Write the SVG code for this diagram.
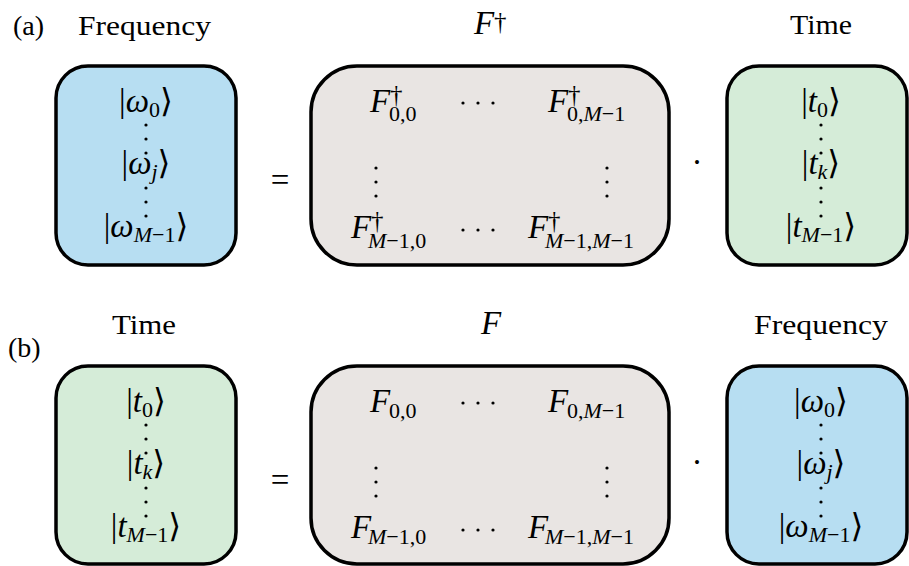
<svg xmlns="http://www.w3.org/2000/svg" width="909" height="566" viewBox="0 0 909 566">
<style>
.box{stroke:#000;stroke-width:3.5}
.blue{fill:#b7def2}
.green{fill:#d5ecd8}
.gray{fill:#e9e5e3}
.lbl{font-family:"Liberation Serif",serif;font-size:28px;fill:#000}
.m{font-family:"Liberation Serif","DejaVu Serif",serif;font-size:33px;fill:#000}
.i{font-style:italic}
.sub{font-size:22px}
.sup{font-size:25px}
.d{fill:#000}
</style>
<defs>
<g id="vd3"><circle cx="0" cy="0" r="1.6"/><circle cx="0" cy="14" r="1.6"/><circle cx="0" cy="28" r="1.6"/></g>
<g id="hd3"><circle cx="0" cy="0" r="1.6"/><circle cx="15" cy="0" r="1.6"/><circle cx="30" cy="0" r="1.6"/></g>
</defs>

<!-- Panel labels -->
<g id="labels">
<text class="lbl" x="13" y="35">(a)</text>
<text class="lbl" x="78" y="35" textLength="133" lengthAdjust="spacingAndGlyphs">Frequency</text>
<text class="m" y="34"><tspan x="474" class="i">F</tspan><tspan x="494" y="30" class="sup">†</tspan></text>
<text class="lbl" x="790" y="34" textLength="62" lengthAdjust="spacingAndGlyphs">Time</text>
<text class="lbl" x="8" y="357">(b)</text>
<text class="lbl" x="112" y="334" textLength="64" lengthAdjust="spacingAndGlyphs">Time</text>
<text class="m" x="481" y="334"><tspan class="i">F</tspan></text>
<text class="lbl" x="754" y="334" textLength="134" lengthAdjust="spacingAndGlyphs">Frequency</text>
</g>

<!-- (a) Frequency vector -->
<g id="a-freq">
<rect class="box blue" x="56" y="66" width="180" height="199" rx="32"/>
<text class="m" x="146" y="112" text-anchor="middle">|<tspan class="i">ω</tspan><tspan class="sub" dy="5">0</tspan><tspan dy="-5">⟩</tspan></text>
<text class="m" x="146" y="174" text-anchor="middle">|<tspan class="i">ω</tspan><tspan class="sub i" dy="5">j</tspan><tspan dy="-5">⟩</tspan></text>
<text class="m" x="146" y="237" text-anchor="middle">|<tspan class="i">ω</tspan><tspan class="sub" dy="5"><tspan class="i">M</tspan>−1</tspan><tspan dy="-5">⟩</tspan></text>
<use href="#vd3" x="146" y="125" class="d"/>
<use href="#vd3" x="146" y="188" class="d"/>
</g>

<!-- (a) Inverse DFT matrix -->
<g id="a-matrix">
<rect class="box gray" x="311" y="66" width="358" height="199" rx="46"/>
<text class="m" y="112"><tspan x="370" class="i">F</tspan><tspan x="390" y="103" class="sup">†</tspan><tspan x="389" y="121" class="sub">0,0</tspan></text>
<text class="m" y="112"><tspan x="548" class="i">F</tspan><tspan x="568" y="103" class="sup">†</tspan><tspan x="567" y="121" class="sub">0,<tspan class="i">M</tspan>−1</tspan></text>
<text class="m" y="238"><tspan x="351" class="i">F</tspan><tspan x="371" y="229" class="sup">†</tspan><tspan x="368" y="248" class="sub"><tspan class="i">M</tspan>−1,0</tspan></text>
<text class="m" y="238"><tspan x="528" class="i">F</tspan><tspan x="548" y="229" class="sup">†</tspan><tspan x="545" y="248" class="sub"><tspan class="i">M</tspan>−1,<tspan class="i">M</tspan>−1</tspan></text>
<use href="#hd3" x="463" y="103" class="d"/>
<use href="#hd3" x="463" y="230" class="d"/>
<use href="#vd3" x="376" y="168" class="d"/>
<use href="#vd3" x="607" y="168" class="d"/>
</g>

<!-- (a) Time vector -->
<g id="a-time">
<rect class="box green" x="727" y="66" width="180" height="199" rx="32"/>
<text class="m" x="821" y="112" text-anchor="middle">|<tspan class="i">t</tspan><tspan class="sub" dy="5">0</tspan><tspan dy="-5">⟩</tspan></text>
<text class="m" x="821" y="174" text-anchor="middle">|<tspan class="i">t</tspan><tspan class="sub i" dy="5">k</tspan><tspan dy="-5">⟩</tspan></text>
<text class="m" x="821" y="237" text-anchor="middle">|<tspan class="i">t</tspan><tspan class="sub" dy="5"><tspan class="i">M</tspan>−1</tspan><tspan dy="-5">⟩</tspan></text>
<use href="#vd3" x="821" y="125" class="d"/>
<use href="#vd3" x="821" y="188" class="d"/>
</g>

<!-- (b) Time vector -->
<g id="b-time">
<rect class="box green" x="56" y="366" width="180" height="198" rx="32"/>
<text class="m" x="146" y="412" text-anchor="middle">|<tspan class="i">t</tspan><tspan class="sub" dy="5">0</tspan><tspan dy="-5">⟩</tspan></text>
<text class="m" x="146" y="474" text-anchor="middle">|<tspan class="i">t</tspan><tspan class="sub i" dy="5">k</tspan><tspan dy="-5">⟩</tspan></text>
<text class="m" x="146" y="537" text-anchor="middle">|<tspan class="i">t</tspan><tspan class="sub" dy="5"><tspan class="i">M</tspan>−1</tspan><tspan dy="-5">⟩</tspan></text>
<use href="#vd3" x="146" y="425" class="d"/>
<use href="#vd3" x="146" y="488" class="d"/>
</g>

<!-- (b) DFT matrix -->
<g id="b-matrix">
<rect class="box gray" x="311" y="366" width="358" height="198" rx="46"/>
<text class="m" y="412"><tspan x="370" class="i">F</tspan><tspan x="389" y="418" class="sub">0,0</tspan></text>
<text class="m" y="412"><tspan x="548" class="i">F</tspan><tspan x="567" y="418" class="sub">0,<tspan class="i">M</tspan>−1</tspan></text>
<text class="m" y="538"><tspan x="351" class="i">F</tspan><tspan x="368" y="544" class="sub"><tspan class="i">M</tspan>−1,0</tspan></text>
<text class="m" y="538"><tspan x="528" class="i">F</tspan><tspan x="545" y="544" class="sub"><tspan class="i">M</tspan>−1,<tspan class="i">M</tspan>−1</tspan></text>
<use href="#hd3" x="463" y="403" class="d"/>
<use href="#hd3" x="463" y="530" class="d"/>
<use href="#vd3" x="376" y="468" class="d"/>
<use href="#vd3" x="607" y="468" class="d"/>
</g>

<!-- (b) Frequency vector -->
<g id="b-freq">
<rect class="box blue" x="727" y="366" width="180" height="198" rx="32"/>
<text class="m" x="821" y="412" text-anchor="middle">|<tspan class="i">ω</tspan><tspan class="sub" dy="5">0</tspan><tspan dy="-5">⟩</tspan></text>
<text class="m" x="821" y="474" text-anchor="middle">|<tspan class="i">ω</tspan><tspan class="sub i" dy="5">j</tspan><tspan dy="-5">⟩</tspan></text>
<text class="m" x="821" y="537" text-anchor="middle">|<tspan class="i">ω</tspan><tspan class="sub" dy="5"><tspan class="i">M</tspan>−1</tspan><tspan dy="-5">⟩</tspan></text>
<use href="#vd3" x="821" y="425" class="d"/>
<use href="#vd3" x="821" y="488" class="d"/>
</g>

<!-- Operators (no connectors in this figure) -->
<g id="connectors">
<text class="m" x="280" y="191" text-anchor="middle">=</text>
<text class="m" x="697" y="173" text-anchor="middle">·</text>
<text class="m" x="280" y="491" text-anchor="middle">=</text>
<text class="m" x="697" y="473" text-anchor="middle">·</text>
</g>
</svg>
